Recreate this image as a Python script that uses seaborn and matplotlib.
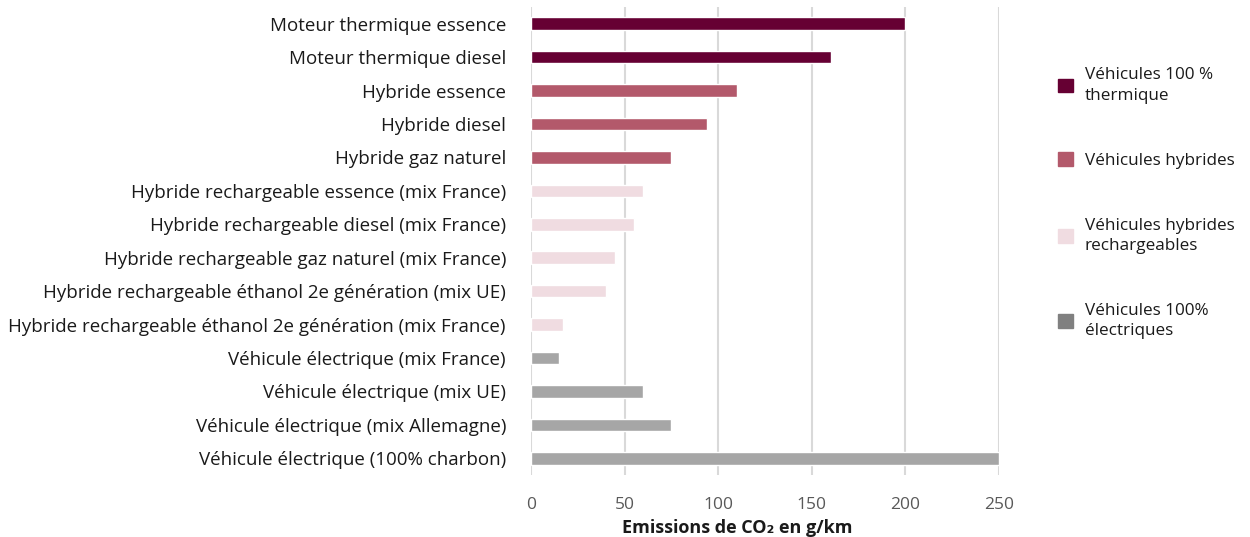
import matplotlib
matplotlib.use("Agg")
import matplotlib.pyplot as plt
from matplotlib.patches import Patch
import seaborn as sns
import pandas as pd

categories = [
    "Moteur thermique essence",
    "Moteur thermique diesel",
    "Hybride essence",
    "Hybride diesel",
    "Hybride gaz naturel",
    "Hybride rechargeable essence (mix France)",
    "Hybride rechargeable diesel (mix France)",
    "Hybride rechargeable gaz naturel (mix France)",
    "Hybride rechargeable éthanol 2e génération (mix UE)",
    "Hybride rechargeable éthanol 2e génération (mix France)",
    "Véhicule électrique (mix France)",
    "Véhicule électrique (mix UE)",
    "Véhicule électrique (mix Allemagne)",
    "Véhicule électrique (100% charbon)",
]
values = [200, 160, 110, 94, 75, 60, 55, 45, 40, 17, 15, 60, 75, 250]
groups = ["th", "th", "hy", "hy", "hy", "hr", "hr", "hr", "hr", "hr",
          "el", "el", "el", "el"]
group_keys = ["th", "hy", "hr", "el"]
group_labels = ["Véhicules 100 %\nthermique", "Véhicules hybrides",
                "Véhicules hybrides\nrechargeables", "Véhicules 100%\nélectriques"]
bar_colors = ["#660033", "#B3596B", "#F0DCE1", "#A6A6A6"]
legend_colors = ["#660033", "#B3596B", "#F0DCE1", "#808080"]
xticks = [0, 50, 100, 150, 200, 250]

sns.set_theme(style="white")
plt.rcParams["font.family"] = ["Open Sans", "DejaVu Sans"]

df = pd.DataFrame({"cat": categories, "val": values, "grp": groups})

fig = plt.figure(figsize=(12.5, 5.37), dpi=100)
ax = fig.add_axes([531 / 1250, 1 - 475 / 537, 468 / 1250, 468 / 537])

sns.barplot(data=df, x="val", y="cat", hue="grp", hue_order=group_keys,
            palette=bar_colors, dodge=False, width=0.38, ax=ax,
            saturation=1, legend=False)

ax.set_xlim(0, 250)
ax.set_xticks(xticks)
ax.set_xticklabels([str(t) for t in xticks], color="#595959", fontsize=12.5)
ax.tick_params(axis="x", length=0, pad=16)
ax.tick_params(axis="y", length=0, pad=18, labelsize=13.5, labelcolor="#1a1a1a")
ax.grid(axis="x", color="#D9D9D9", linewidth=1.5)
ax.set_axisbelow(True)
for s in ax.spines.values():
    s.set_visible(False)
ax.set_ylabel("")
ax.set_xlabel("Emissions de CO₂ en g/km", fontsize=13, fontweight="bold",
              color="#1a1a1a")
ax.xaxis.set_label_coords((737 - 531) / 468, -0.095)

handles = [Patch(facecolor=c, edgecolor=c) for c in legend_colors]
leg = fig.legend(handles, group_labels, loc="upper left",
                 bbox_to_anchor=(1043 / 1250, 1 - 52 / 537), frameon=False,
                 fontsize=12.3, labelspacing=2.85, handlelength=0.85,
                 handleheight=0.85, handletextpad=0.7)
for t in leg.get_texts():
    t.set_color("#1a1a1a")
    t.set_linespacing(1.35)

fig.savefig("out.png", dpi=100)
